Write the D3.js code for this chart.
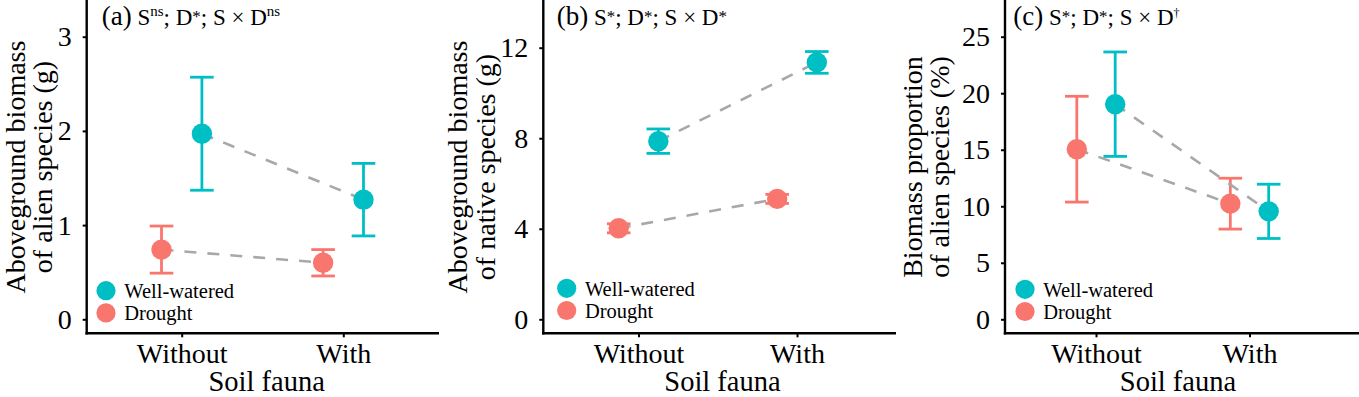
<!DOCTYPE html>
<html>
<head>
<meta charset="utf-8">
<script src="https://cdn.jsdelivr.net/npm/d3@7"></script>
<style>
  html, body { margin: 0; padding: 0; background: #fff; }
  svg { display: block; }
</style>
</head>
<body>
<svg id="chart" width="1359" height="397"></svg>
<script>
// ---------------- data ----------------
const categories = ["Without", "With"];
const groups = ["Well-watered", "Drought"];

// (a) aboveground biomass of alien species (g)
const alienWWMean = [1.97, 1.27];
const alienWWSE   = [0.60, 0.385];
const alienDrMean = [0.74, 0.60];
const alienDrSE   = [0.25, 0.14];
const alienTicks  = [0, 1, 2, 3];

// (b) aboveground biomass of native species (g)
const nativeWWMean = [7.87, 11.35];
const nativeWWSE   = [0.54, 0.48];
const nativeDrMean = [4.02, 5.32];
const nativeDrSE   = [0.20, 0.20];
const nativeTicks  = [0, 4, 8, 12];

// (c) biomass proportion of alien species (%)
const propWWMean = [19.03, 9.55];
const propWWSE   = [4.62, 2.40];
const propDrMean = [15.05, 10.23];
const propDrSE   = [4.68, 2.25];
const propTicks  = [0, 5, 10, 15, 20, 25];

const titleA = [["(a)", "lab"], [" S", "n"], ["ns", "sup"], ["; D", "n"], ["*", "ast"], ["; S × D", "n"], ["ns", "sup"]];
const titleB = [["(b)", "lab"], [" S", "n"], ["*", "ast"], ["; D", "n"], ["*", "ast"], ["; S × D", "n"], ["*", "ast"]];
const titleC = [["(c)", "lab"], [" S", "n"], ["*", "ast"], ["; D", "n"], ["*", "ast"], ["; S × D", "n"], ["†", "dag"]];

const yTitleA = ["Aboveground biomass", "of alien species (g)"];
const yTitleB = ["Aboveground biomass", "of native species (g)"];
const yTitleC = ["Biomass proportion", "of alien species (%)"];
const xTitle = "Soil fauna";

// ---------------- styles / layout ----------------
const FONT = '"Liberation Serif", "Times New Roman", Times, serif';
const COLORS = { "Well-watered": "#00BFC4", "Drought": "#F8766D" };
const DODGE = { "Well-watered": 0.125, "Drought": -0.125 };
const LINE_COLOR = "#A8A8A8";
const AXIS_Y = 333.3;     // pixel position of the x axis line
const ZERO_Y = 319.3;     // pixel of value 0

const panels = [
  { ww: [alienWWMean, alienWWSE], dr: [alienDrMean, alienDrSE], ticks: alienTicks, title: titleA, ytitle: yTitleA,
    axisX: 86.7, x1: 181.7, x2: 343.3, right: 439, topPx: 36.7,
    titleX: 101.7, titleY: 24.5, legX: 106, legY: 290.7, ytX: [25.2, 52], xtX: 266.7 },
  { ww: [nativeWWMean, nativeWWSE], dr: [nativeDrMean, nativeDrSE], ticks: nativeTicks, title: titleB, ytitle: yTitleB,
    axisX: 543.3, x1: 638.5, x2: 797.0, right: 896, topPx: 47.7,
    titleX: 556.7, titleY: 24.5, legX: 566.7, legY: 288.3, ytX: [467, 494.5], xtX: 722.5 },
  { ww: [propWWMean, propWWSE], dr: [propDrMean, propDrSE], ticks: propTicks, title: titleC, ytitle: yTitleC,
    axisX: 1005, x1: 1096, x2: 1249.5, right: 1359, topPx: 36.7,
    titleX: 1013.3, titleY: 24.5, legX: 1025, legY: 289.3, ytX: [921.5, 949], xtX: 1178 }
];

const svg = d3.select("#chart").attr("font-family", FONT);

panels.forEach(p => {
  const g = svg.append("g").attr("font-family", FONT);
  const x = d3.scaleLinear().domain([1, 2]).range([p.x1, p.x2]);
  const yMax = p.ticks[p.ticks.length - 1];
  const y = d3.scaleLinear().domain([0, yMax]).range([ZERO_Y, p.topPx]);

  // axes
  const ya = g.append("g").attr("transform", `translate(${p.axisX},0)`)
    .call(d3.axisLeft(y).tickValues(p.ticks).tickSize(4).tickPadding(11).tickFormat(d3.format("d")));
  ya.attr("font-family", FONT).attr("font-size", 28);
  ya.select(".domain").remove();
  ya.selectAll("line").attr("stroke", "#000").attr("stroke-width", 2);
  ya.selectAll("text").attr("fill", "#000");

  const xa = g.append("g").attr("transform", `translate(0,${AXIS_Y})`)
    .call(d3.axisBottom(x).tickValues([1, 2]).tickSize(4).tickPadding(5.5)
      .tickFormat(d => categories[d - 1]));
  xa.attr("font-family", FONT).attr("font-size", 28);
  xa.select(".domain").remove();
  xa.selectAll("line").attr("stroke", "#000").attr("stroke-width", 2);
  xa.selectAll("text").attr("fill", "#000");

  g.append("line").attr("x1", p.axisX).attr("x2", p.axisX).attr("y1", 0).attr("y2", AXIS_Y + 1.2)
    .attr("stroke", "#000").attr("stroke-width", 2.4);
  g.append("line").attr("x1", p.axisX - 1.2).attr("x2", p.right).attr("y1", AXIS_Y).attr("y2", AXIS_Y)
    .attr("stroke", "#000").attr("stroke-width", 2.4);

  // data rows
  const rows = [];
  [["Well-watered", p.ww], ["Drought", p.dr]].forEach(([grp, arr]) => {
    categories.forEach((c, i) => rows.push({ grp, i: i + 1, mean: arr[0][i], se: arr[1][i] }));
  });
  const px = d => x(d.i + DODGE[d.grp]);

  // error bars
  const eb = g.append("g");
  rows.forEach(d => {
    const col = COLORS[d.grp], cx = px(d);
    const lo = y(d.mean - d.se), hi = y(d.mean + d.se);
    eb.append("line").attr("x1", cx).attr("x2", cx).attr("y1", lo).attr("y2", hi)
      .attr("stroke", col).attr("stroke-width", 2.8);
    [lo, hi].forEach(yy => eb.append("line")
      .attr("x1", cx - 11.8).attr("x2", cx + 11.8).attr("y1", yy).attr("y2", yy)
      .attr("stroke", col).attr("stroke-width", 2.8));
  });

  // dashed connecting lines
  const line = d3.line().x(px).y(d => y(d.mean));
  groups.forEach(grp => {
    g.append("path").datum(rows.filter(r => r.grp === grp))
      .attr("d", line).attr("fill", "none").attr("stroke", LINE_COLOR)
      .attr("stroke-width", 2.6).attr("stroke-dasharray", "12,11");
  });

  // points
  g.append("g").selectAll("circle").data(rows).join("circle")
    .attr("cx", px).attr("cy", d => y(d.mean)).attr("r", 10.2)
    .attr("fill", d => COLORS[d.grp]);

  // legend
  groups.forEach((grp, k) => {
    const ly = p.legY + k * 22.2;
    g.append("circle").attr("cx", p.legX).attr("cy", ly).attr("r", 9.6).attr("fill", COLORS[grp]);
    g.append("text").attr("x", p.legX + 18.2).attr("y", ly + 7.4)
      .attr("font-size", 20.5).attr("fill", "#000").text(grp);
  });

  // panel title
  const t = g.append("text").attr("x", p.titleX).attr("y", p.titleY).attr("fill", "#000");
  let raised = 0;
  p.title.forEach(([txt, kind]) => {
    let size = 23, shift = 0;
    if (kind === "lab") size = 27;
    if (kind === "sup") { size = 15; shift = 9; }
    if (kind === "ast") { size = 17; shift = 3; }
    if (kind === "dag") { size = 12; shift = 8; }
    t.append("tspan").attr("font-size", size).attr("dy", raised - shift).text(txt);
    raised = shift;
  });

  // y title
  p.ytitle.forEach((ln, k) => {
    g.append("text").attr("transform", `translate(${p.ytX[k]},167) rotate(-90)`)
      .attr("text-anchor", "middle").attr("font-size", 28).attr("fill", "#000").text(ln);
  });

  // x title
  g.append("text").attr("x", p.xtX).attr("y", 390.6).attr("text-anchor", "middle")
    .attr("font-size", 28.5).attr("fill", "#000").text(xTitle);
});
</script>
</body>
</html>
